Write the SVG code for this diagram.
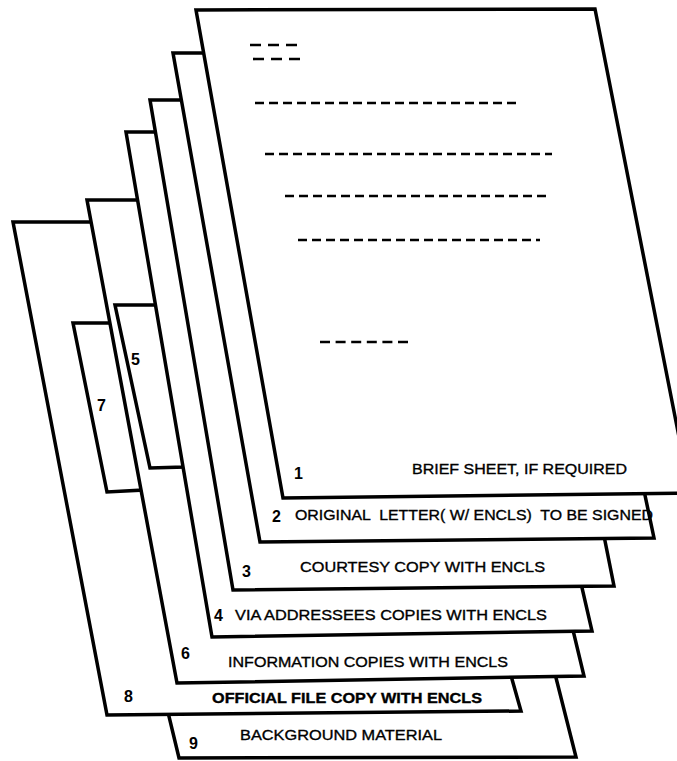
<svg xmlns="http://www.w3.org/2000/svg" width="677" height="761" viewBox="0 0 677 761">
<style>
.sheet{fill:#fff;stroke:#000;stroke-width:3.5;stroke-linejoin:miter}
.lbl{font-family:"Liberation Sans",Arial,sans-serif;font-size:15px;fill:#000;stroke:#000;stroke-width:0.35}
.num{font-family:"Liberation Sans",Arial,sans-serif;font-size:16px;font-weight:bold;fill:#000}
.dash{stroke:#000;stroke-width:2.6;fill:none}
</style>
<rect width="677" height="761" fill="#fff"/>
<g id="sheet9">
<polygon class="sheet" points="153,650 549,650 576,757 179,758"/>
<text class="num" x="189" y="749">9</text>
<text class="lbl" x="240" y="740" textLength="202" lengthAdjust="spacingAndGlyphs">BACKGROUND MATERIAL</text>
</g>
<g id="sheet8">
<polygon class="sheet" points="13,222 383,222 521,711 107,715"/>
<text class="num" x="124" y="702">8</text>
<text class="lbl" x="212" y="703" textLength="270" lengthAdjust="spacingAndGlyphs" font-weight="bold">OFFICIAL FILE COPY WITH ENCLS</text>
</g>
<g id="sheet7">
<polygon class="sheet" points="73,323 118,323 143,490 107,492"/>
<text class="num" x="97" y="411">7</text>
</g>
<g id="sheet6">
<polygon class="sheet" points="87,200 470,200 584,676 177,683"/>
<text class="num" x="181" y="659">6</text>
<text class="lbl" x="228" y="667" textLength="280" lengthAdjust="spacingAndGlyphs">INFORMATION COPIES WITH ENCLS</text>
</g>
<g id="sheet5">
<polygon class="sheet" points="115,305 162,305 184,467 150,468"/>
<text class="num" x="131" y="365">5</text>
</g>
<g id="sheet4">
<polygon class="sheet" points="126,132 477,132 592,631 212,637"/>
<text class="num" x="214" y="621">4</text>
<text class="lbl" x="235" y="620" textLength="312" lengthAdjust="spacingAndGlyphs">VIA ADDRESSEES COPIES WITH ENCLS</text>
</g>
<g id="sheet3">
<polygon class="sheet" points="150,100 517,100 614,586 233,590"/>
<text class="num" x="242" y="577">3</text>
<text class="lbl" x="300" y="572" textLength="245" lengthAdjust="spacingAndGlyphs">COURTESY COPY WITH ENCLS</text>
</g>
<g id="sheet2">
<polygon class="sheet" points="173,53 552,53 654,538 260,542"/>
<text class="num" x="272" y="522">2</text>
<text class="lbl" x="295" y="520" textLength="358" lengthAdjust="spacingAndGlyphs" xml:space="preserve">ORIGINAL  LETTER( W/ ENCLS)  TO BE SIGNED</text>
</g>
<g id="sheet1">
<polygon class="sheet" points="196,10 595,9 690,493 283,498"/>
<text class="num" x="294" y="479">1</text>
<text class="lbl" x="412" y="474" textLength="215" lengthAdjust="spacingAndGlyphs">BRIEF SHEET, IF REQUIRED</text>
<g id="letter-lines">
<line class="dash" x1="250" y1="45" x2="297" y2="45" stroke-dasharray="11 7"/>
<line class="dash" x1="253" y1="59" x2="300" y2="59" stroke-dasharray="11 7"/>
<line class="dash" x1="255" y1="103" x2="519" y2="103" stroke-dasharray="9 5"/>
<line class="dash" x1="265" y1="154" x2="552" y2="154" stroke-dasharray="9 5"/>
<line class="dash" x1="285" y1="196" x2="549" y2="196" stroke-dasharray="9 5"/>
<line class="dash" x1="298" y1="240" x2="540" y2="240" stroke-dasharray="9 5"/>
<line class="dash" x1="320" y1="342" x2="408" y2="342" stroke-dasharray="10 5.6"/>
</g>
</g>
<g id="connectors"/>
</svg>
